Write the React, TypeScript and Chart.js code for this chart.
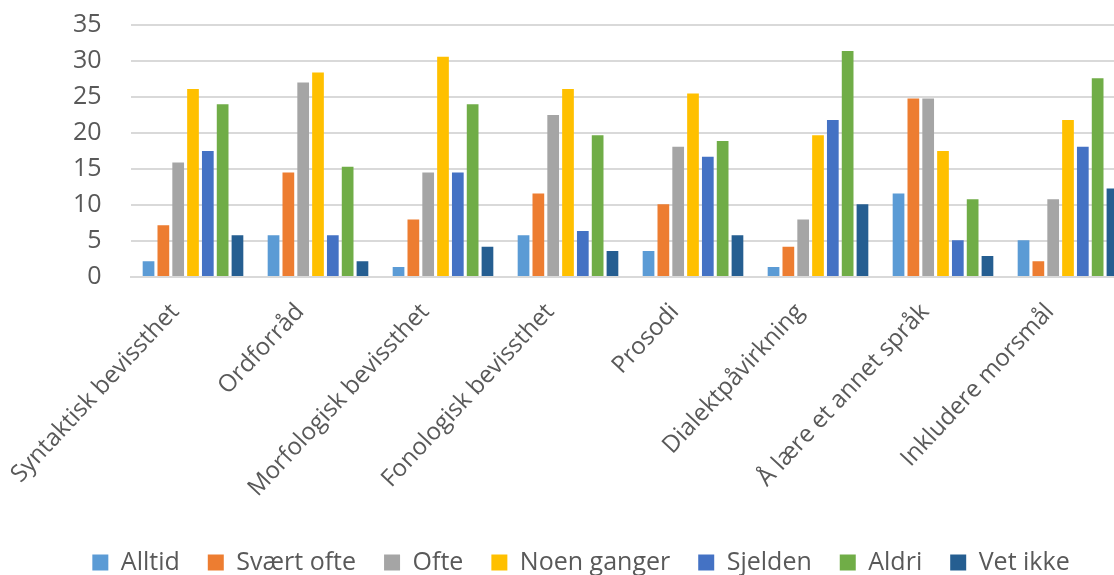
import React, { useEffect, useRef } from "react";
import { Chart, registerables } from "chart.js";

Chart.register(...registerables);

const categories = [
  "Syntaktisk bevissthet",
  "Ordforråd",
  "Morfologisk bevissthet",
  "Fonologisk bevissthet",
  "Prosodi",
  "Dialektpåvirkning",
  "Å lære et annet språk",
  "Inkludere morsmål",
];

const seriesNames = ["Alltid", "Svært ofte", "Ofte", "Noen ganger", "Sjelden", "Aldri", "Vet ikke"];
const seriesColors = ["#5B9BD5", "#ED7D31", "#A5A5A5", "#FFC000", "#4472C4", "#70AD47", "#255E91"];

const alltid = [2.2, 5.8, 1.4, 5.8, 3.6, 1.4, 11.6, 5.1];
const svaertOfte = [7.2, 14.5, 8.0, 11.6, 10.1, 4.2, 24.8, 2.2];
const ofte = [15.9, 27.0, 14.5, 22.5, 18.1, 8.0, 24.8, 10.8];
const noenGanger = [26.1, 28.4, 30.6, 26.1, 25.5, 19.7, 17.5, 21.8];
const sjelden = [17.5, 5.8, 14.5, 6.4, 16.7, 21.8, 5.1, 18.1];
const aldri = [24.0, 15.3, 24.0, 19.7, 18.9, 31.4, 10.8, 27.6];
const vetIkke = [5.8, 2.2, 4.2, 3.6, 5.8, 10.1, 2.9, 12.3];

const seriesValues = [alltid, svaertOfte, ofte, noenGanger, sjelden, aldri, vetIkke];

const yTicks = [0, 5, 10, 15, 20, 25, 30, 35];

const FONT = "'Open Sans', 'Noto Sans', sans-serif";
const TEXT = "#595959";
const GRID = "#D9D9D9";

export default function App() {
  const ref = useRef<HTMLCanvasElement | null>(null);

  useEffect(() => {
    if (!ref.current) return;
    const chart = new Chart(ref.current, {
      type: "bar",
      data: {
        labels: categories,
        datasets: seriesNames.map((name, i) => ({
          label: name,
          data: seriesValues[i],
          backgroundColor: seriesColors[i],
          borderWidth: 0,
          categoryPercentage: 0.83,
          barPercentage: 0.79,
        })),
      },
      options: {
        animation: false,
        responsive: false,
        maintainAspectRatio: false,
        layout: { padding: { top: 10, right: 0, left: 0, bottom: 6 } },
        plugins: {
          tooltip: { enabled: false },
          legend: {
            position: "bottom",
            labels: {
              color: TEXT,
              font: { family: FONT, size: 25 },
              boxWidth: 16,
              boxHeight: 16,
              padding: 28,
            },
          },
        },
        scales: {
          x: {
            grid: { display: false, drawTicks: false },
            border: { display: true, color: GRID, width: 2 },
            ticks: {
              color: TEXT,
              font: { family: FONT, size: 24 },
              maxRotation: 47,
              minRotation: 47,
              padding: 21,
              labelOffset: -18,
              autoSkip: false,
            },
            afterFit: (scale: any) => {
              scale.height = 245;
            },
          },
          y: {
            min: 0,
            max: 35,
            afterBuildTicks: (scale: any) => {
              scale.ticks = yTicks.map((v) => ({ value: v }));
            },
            grid: { color: GRID, lineWidth: 2, drawTicks: false },
            border: { display: false },
            ticks: {
              color: TEXT,
              font: { family: FONT, size: 25 },
              padding: 29,
            },
            afterFit: (scale: any) => {
              scale.width = 130.5;
            },
          },
          spacer: {
            type: "linear",
            position: "right",
            display: true,
            grid: { display: false, drawTicks: false },
            border: { display: false },
            ticks: { display: false },
            afterFit: (scale: any) => {
              scale.width = 31.5;
            },
          },
        },
      },
    });
    return () => chart.destroy();
  }, []);

  return (
    <div
      style={{
        position: "fixed",
        left: 0,
        top: 0,
        width: 1114,
        height: 575,
        overflow: "hidden",
        background: "#fff",
      }}
    >
      <canvas
        ref={ref}
        width={1162}
        height={610}
        style={{ display: "block", position: "absolute", left: 0, top: -19, width: 1162, height: 610 }}
      />
    </div>
  );
}
